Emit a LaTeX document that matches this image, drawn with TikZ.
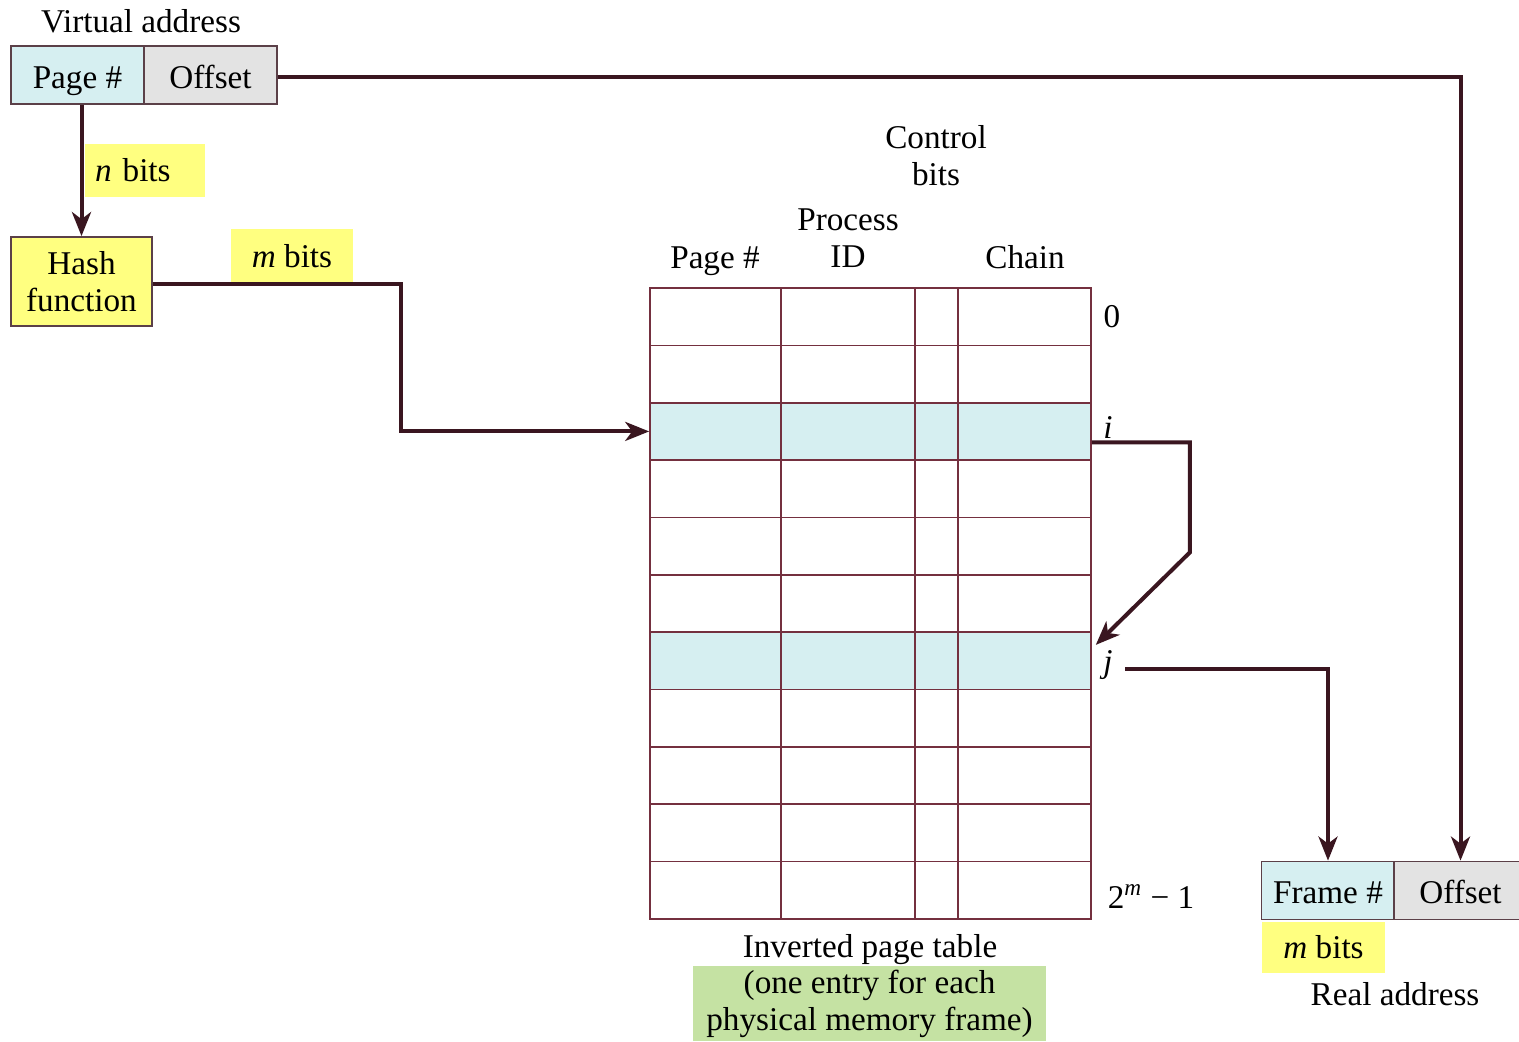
\documentclass[tikz,border=0pt]{standalone}
\usepackage{fontspec}
\setmainfont{Liberation Serif}
\usetikzlibrary{arrows.meta,calc}
\definecolor{cyanf}{HTML}{D6EFF1}
\definecolor{grayf}{HTML}{E3E3E3}
\definecolor{yel}{HTML}{FFFF80}
\definecolor{grn}{HTML}{C5E2A3}
\definecolor{lnc}{HTML}{3A1620}
\definecolor{tbl}{HTML}{74303F}
\definecolor{bdr}{HTML}{5B4048}
\begin{document}
\begin{tikzpicture}[x=0.5pt,y=-0.5pt,
  every node/.style={font=\fontsize{16.6}{18.5}\selectfont, inner sep=0pt},
  cbox/.style={draw=bdr, line width=0.9pt, fill=cyanf, minimum width=66.5pt, minimum height=29pt, text height=13pt, text depth=0pt},
  gbox/.style={draw=bdr, line width=0.9pt, fill=grayf, minimum width=66.5pt, minimum height=29pt, text height=13pt, text depth=0pt},
  ylab/.style={fill=yel},
  rowbox/.style={draw=tbl, line width=0.8pt, minimum width=220.5pt, minimum height=28.68pt},
  hl/.style={fill=cyanf},
  arr/.style={draw=lnc, line width=2pt, -{Stealth[length=12pt,width=9.5pt,inset=3.5pt]}},
  txt/.style={align=center}
]
\useasboundingbox (0,0) rectangle (1519,1041);
\clip (0,0) rectangle (1519,1041);

% virtual address
\node[anchor=base] (vatitle) at (141,32) {Virtual address};
\node[cbox] (vpage) at (77.5,75) {Page \#};
\node[gbox] (voff) at (210.5,75) {Offset};
\node[ylab, minimum width=60pt, minimum height=26.5pt, text width=50pt, inner xsep=5pt, align=left] (nbits) at (145,170.5) {\textit{n} bits};
\node[draw=bdr, line width=0.9pt, fill=yel, minimum width=70.5pt, minimum height=44.5pt, align=center] (hash) at (81.5,281.5) {Hash\\function};
\node[ylab, minimum width=61pt, minimum height=27pt] (mbits1) at (292,256) {\textit{m} bits};

% table
\foreach \k/\s in {0/,1/,2/hl,3/,4/,5/,6/hl,7/,8/,9/,10/}
  \node[rowbox,\s] (r\k) at (870.5,{288+57.364*(\k+0.5)}) {};
\foreach \xx in {781,915,958}
  \draw[tbl, line width=0.8pt] (\xx,288) -- (\xx,919);

% headers
\node[anchor=base] (hpage) at (715,268) {Page \#};
\node[txt] (hpid) at (848,238) {Process\\ID};
\node[txt] (hctl) at (936,155.5) {Control\\bits};
\node[anchor=base] (hchain) at (1025,268) {Chain};

% row labels
\node[anchor=base] (l0) at (1112,327) {0};
\node[anchor=base] (li) at (1108,438) {\textit{i}};
\node[anchor=base] (lj) at (1108,672) {\textit{j}};
\node[anchor=base] (lm) at (1151,908) {2\textsuperscript{\textit{m}} − 1};

\node[anchor=base] (iptitle) at (870,957) {Inverted page table};
\node[fill=grn, minimum width=176.5pt, minimum height=37.5pt, align=center] (ipnote) at (869.5,1003.5) {(one entry for each\\physical memory frame)};

% real address
\node[cbox] (rframe) at (1328,890.5) {Frame \#};
\node[gbox] (roff) at (1460.5,890.5) {Offset};
\node[ylab, minimum width=61.5pt, minimum height=25.5pt] (mbits2) at (1323.5,947.5) {\textit{m} bits};
\node[anchor=base] (ratitle) at (1395,1005) {Real address};

% connectors
\coordinate (jstart) at (1125,669);
\draw[arr] (vpage.south -| hash.north) -- (hash.north);
\draw[arr] ([yshift=-1pt]voff.east) -| (roff.north);
\draw[arr] ([yshift=-1.2pt]hash.east) -- ++(124pt,0) |- (r2.west);
\draw[arr] ([yshift=-5.5pt]r2.east) -- ++(49pt,0) -- ++(0,-55pt) -- ([xshift=2pt,yshift=8pt]r6.east);
\draw[arr] (jstart) -| (rframe.north);
\end{tikzpicture}
\end{document}
